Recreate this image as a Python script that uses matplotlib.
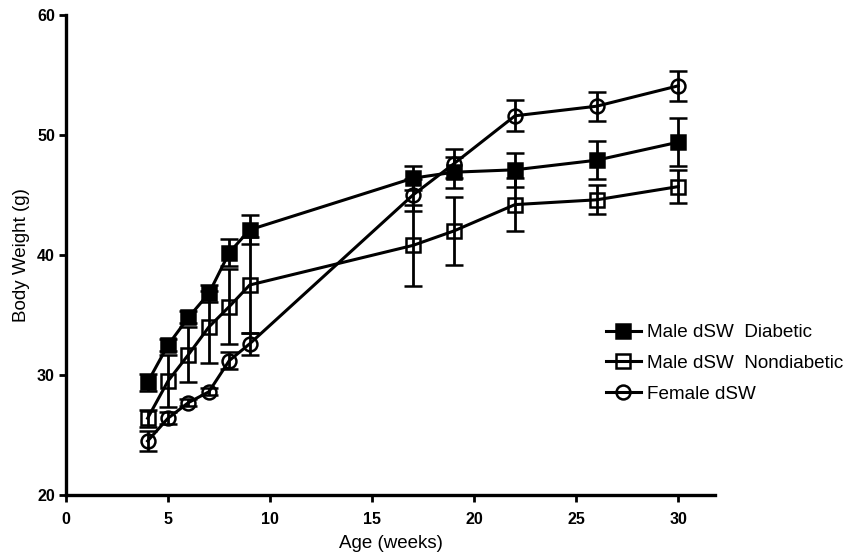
import numpy as np
import matplotlib
matplotlib.use("Agg")
import matplotlib.pyplot as plt

plt.rcParams['font.family'] = ['Liberation Sans', 'DejaVu Sans']

# Age in weeks
weeks = [4, 5, 6, 7, 8, 9, 17, 19, 22, 26, 30]

# Body weight (g), mean and error
diabetic = [29.4, 32.5, 34.8, 36.8, 40.2, 42.1, 46.4, 46.9, 47.1, 47.9, 49.4]
diabetic_err = [0.7, 0.5, 0.5, 0.7, 1.1, 1.2, 1.0, 1.3, 1.4, 1.6, 2.0]

nondiabetic = [26.4, 29.5, 31.7, 34.0, 35.7, 37.5, 40.8, 42.0, 44.2, 44.6, 45.7]
nondiabetic_err = [0.7, 2.2, 2.3, 3.0, 3.1, 4.0, 3.4, 2.8, 2.2, 1.2, 1.4]

female = [24.5, 26.4, 27.7, 28.6, 31.2, 32.6, 45.0, 47.6, 51.6, 52.4, 54.1]
female_err = [0.8, 0.5, 0.3, 0.3, 0.7, 0.9, 1.3, 1.2, 1.3, 1.2, 1.25]

labels = ['Male dSW  Diabetic', 'Male dSW  Nondiabetic', 'Female dSW']

fig = plt.figure(figsize=(8.53, 5.59), dpi=100)
ax = fig.add_axes([66 / 853, 1 - 495 / 559, 649 / 853, 480 / 559])

common = dict(color='black', linewidth=2.2, elinewidth=2.0, capsize=6.5,
              capthick=2.0, markersize=10, markeredgewidth=1.8)
ax.errorbar(weeks, diabetic, yerr=diabetic_err, marker='s',
            markerfacecolor='black', label=labels[0], **common)
ax.errorbar(weeks, nondiabetic, yerr=nondiabetic_err, marker='s',
            markerfacecolor='none', label=labels[1], **common)
ax.errorbar(weeks, female, yerr=female_err, marker='o',
            markerfacecolor='none', label=labels[2], **common)

ax.set_xlim(0, 31.8)
ax.set_ylim(20, 60)
ax.set_xticks([0, 5, 10, 15, 20, 25, 30])
ax.set_yticks([20, 30, 40, 50, 60])

for s in ['top', 'right']:
    ax.spines[s].set_visible(False)
for s in ['left', 'bottom']:
    ax.spines[s].set_linewidth(2.4)
ax.tick_params(width=2.0, length=5, labelsize=11.5, pad=3)
ax.tick_params(axis='x', pad=7)
for t in ax.get_xticklabels() + ax.get_yticklabels():
    t.set_fontweight('bold')

ax.set_xlabel('Age (weeks)', fontsize=13.5, labelpad=6)
ax.set_ylabel('Body Weight (g)', fontsize=13.5, labelpad=5)

handles, lbls = ax.get_legend_handles_labels()
handles = [h[0] for h in handles]
fig.legend(handles, lbls, loc='upper left', bbox_to_anchor=(606 / 853, 1 - 324 / 559),
           frameon=False, fontsize=13.6, handlelength=1.85, handletextpad=0.3,
           labelspacing=0.72, borderaxespad=0, borderpad=0)

fig.savefig('out.png', dpi=100)
